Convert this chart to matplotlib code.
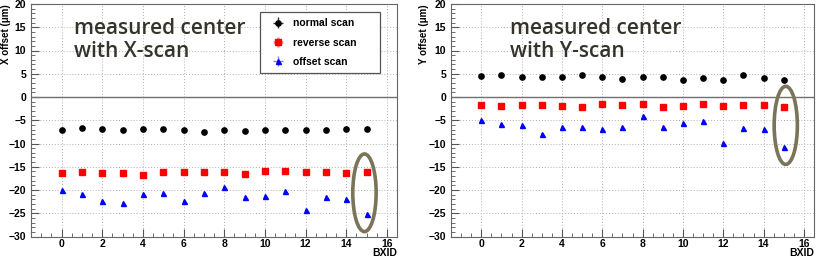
import numpy as np
import matplotlib
matplotlib.use("Agg")
import matplotlib.pyplot as plt
from matplotlib.patches import Ellipse
from matplotlib.ticker import MultipleLocator

bxid = list(range(16))

x_normal = [-7.0, -6.75, -6.9, -7.0, -6.9, -6.9, -7.15, -7.45, -7.15, -7.3, -7.15, -7.15, -7.15, -7.0, -6.9, -6.9]
x_reverse = [-16.45, -16.2, -16.3, -16.3, -16.8, -16.2, -16.2, -16.1, -16.2, -16.6, -16.0, -16.0, -16.2, -16.2, -16.3, -16.1]
x_offset = [-20.1, -20.9, -22.4, -22.9, -20.8, -20.6, -22.4, -20.6, -19.4, -21.5, -21.2, -20.2, -24.3, -21.4, -21.9, -25.1]

y_normal = [4.45, 4.68, 4.4, 4.4, 4.25, 4.68, 4.25, 3.95, 4.4, 4.4, 3.75, 4.0, 3.67, 4.68, 4.0, 3.67]
y_reverse = [-1.65, -2.0, -1.65, -1.8, -1.95, -2.15, -1.5, -1.8, -1.5, -2.1, -2.0, -1.5, -2.0, -1.8, -1.65, -2.15]
y_offset = [-4.95, -5.85, -6.05, -7.9, -6.45, -6.45, -6.8, -6.35, -4.0, -6.55, -5.6, -5.2, -9.95, -6.7, -6.9, -10.8]

series_labels = ["normal scan", "reverse scan", "offset scan"]
panel_titles = ["measured center\nwith X-scan", "measured center\nwith Y-scan"]
ylabels = ["X offset (\u03bcm)", "Y offset (\u03bcm)"]
# highlighted point ellipse: (center x, center y, width, height)
ellipses = [(14.9, -20.6, 1.15, 16.7), (15.1, -6.1, 1.15, 16.8)]

plt.rcParams['font.family'] = ['Liberation Sans', 'DejaVu Sans']

fig = plt.figure(figsize=(8.17, 2.57), dpi=100)
axL = fig.add_axes([31/817, 20.5/257, 366/817, 232.5/257])
axR = fig.add_axes([451/817, 20.5/257, 363/817, 232.5/257])

data = [(x_normal, x_reverse, x_offset), (y_normal, y_reverse, y_offset)]
text_x = [74, 510]
ylab_x = [-0.056, -0.060]

for i, ax in enumerate([axL, axR]):
    n, r, o = data[i]
    ax.set_xlim(-1.5, 16.5)
    ax.set_ylim(-30, 20)
    ax.xaxis.set_major_locator(MultipleLocator(2))
    ax.xaxis.set_minor_locator(MultipleLocator(0.5))
    ax.yaxis.set_major_locator(MultipleLocator(5))
    ax.yaxis.set_minor_locator(MultipleLocator(1))
    ax.grid(True, which='major', linestyle=(0, (1, 2)), color='#b0b0b0', linewidth=0.7)
    ax.set_axisbelow(True)
    ax.axhline(0, color='#707070', linewidth=1.0, zorder=1)
    ax.tick_params(axis='both', which='both', direction='in', top=False, right=False,
                   colors='#555555', labelcolor='black')
    ax.tick_params(axis='both', which='major', length=6, width=0.8)
    ax.tick_params(axis='both', which='minor', length=3, width=0.6)
    ax.tick_params(axis='x', which='major', pad=1.5)
    for lab in ax.get_xticklabels() + ax.get_yticklabels():
        lab.set_fontweight('bold')
        lab.set_fontsize(7.5)
    for sp in ax.spines.values():
        sp.set_color('#666666')
        sp.set_linewidth(0.8)

    ax.errorbar(bxid, n, xerr=0, yerr=0, fmt='o', color='black', ecolor='#333333',
                markersize=3.8, elinewidth=1.0, label=series_labels[0], zorder=3)
    ax.errorbar(bxid, r, xerr=0, yerr=0, fmt='s', color='#ff0000', ecolor='#ff9999',
                markersize=4.3, elinewidth=2.0, label=series_labels[1], zorder=3)
    ax.errorbar(bxid, o, xerr=0, yerr=0, fmt='^', color='#0000ff', ecolor='#8080ff',
                markersize=3.6, elinewidth=1.0, label=series_labels[2], zorder=3)

    ex, ey, ew, eh = ellipses[i]
    ax.add_patch(Ellipse((ex, ey), ew, eh, fill=False, edgecolor='#7a7458', linewidth=2.6, zorder=4))

    ax.set_ylabel(ylabels[i], fontsize=7, fontweight='bold', loc='top')
    ax.yaxis.set_label_coords(ylab_x[i], 1.0)
    ax.set_xlabel("BXID", fontsize=7.5, fontweight='bold', loc='right')
    ax.xaxis.set_label_coords(1.0, -0.072)
    ax.xaxis.label.set_va('center')

    fig.text(text_x[i]/817, 1 - 18/257, panel_titles[i], fontsize=15, color='#35332a',
             family=['Open Sans', 'DejaVu Sans'], fontweight='semibold', va='top', ha='left',
             linespacing=1.15)

leg = axL.legend(loc='upper left', bbox_to_anchor=(0.626, 0.966, 0.328, 0.0), mode='expand',
                 prop={'weight': 'bold', 'size': 7.5}, frameon=True, fancybox=False,
                 edgecolor='#555555', framealpha=1, borderpad=0.6, labelspacing=0.9,
                 handlelength=2.2, handletextpad=0.4, borderaxespad=0)
leg.get_frame().set_linewidth(0.9)

fig.savefig("out.png", dpi=100)
